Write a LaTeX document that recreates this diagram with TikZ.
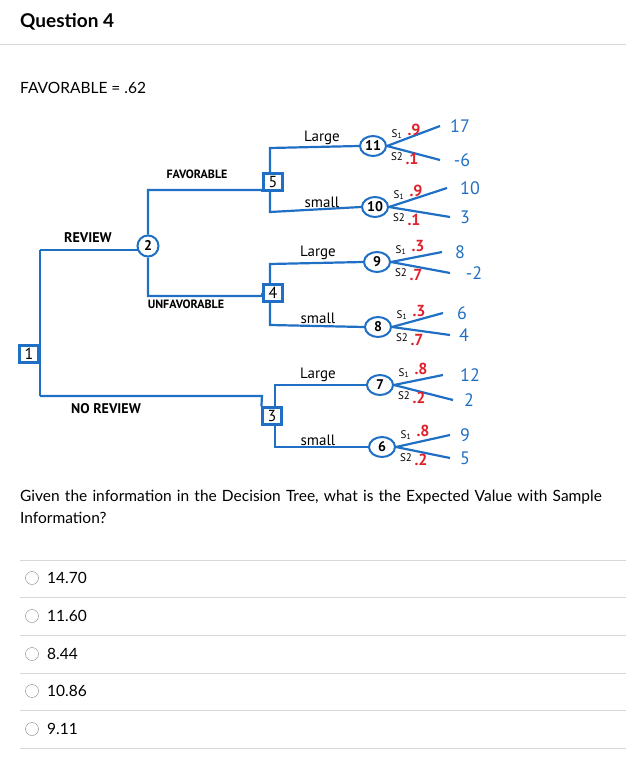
\documentclass[tikz,border=0pt]{standalone}
\usepackage{fontspec}
\setmainfont{Lato}
\newfontfamily\hand{PT Sans}
\usetikzlibrary{shapes.geometric}
\definecolor{tb}{HTML}{1F6FC4}
\definecolor{tr}{HTML}{E0202A}
\definecolor{sep}{HTML}{D8D8D8}
\begin{document}
\begin{tikzpicture}[x=1pt,y=-1pt,
  br/.style={tb,line width=2.2pt},
  dbox/.style={draw=tb,line width=2.2pt,minimum width=19pt,minimum height=17pt,inner sep=0pt,font=\hand\fontsize{16}{17}\selectfont},
  cnode/.style={draw=tb,line width=2pt,ellipse,minimum width=26pt,minimum height=20pt,inner sep=0pt,font=\hand\fontsize{14}{15}\selectfont\bfseries},
  lab/.style={font=\hand\fontsize{15}{16}\selectfont,inner sep=0pt},
  sl/.style={font=\hand\fontsize{11}{12}\selectfont,inner sep=0pt},
  pr/.style={font=\hand\fontsize{16}{17}\selectfont\bfseries,text=tr,inner sep=0pt},
  val/.style={font=\hand\fontsize{18}{19}\selectfont,text=tb,inner sep=0pt},
  opt/.style={font=\fontsize{15.5}{22}\selectfont,anchor=west,inner sep=0pt},
  rad/.style={draw=gray,circle,minimum size=13pt,inner sep=0pt}]
\useasboundingbox (0,0) rectangle (626,767);
\node[font=\fontsize{19}{20}\selectfont\bfseries,anchor=west,inner sep=0pt] (q) at (20,22) {Question 4};
\draw[sep,line width=1pt] (0,45) -- (626,45);
\node[opt] (fav) at (20,88) {FAVORABLE = .62};
% decision nodes
\node[dbox] (n1) at (29,354) {1};
\node[cnode,circle,minimum size=21pt] (n2) at (148,246) {2};
\node[dbox] (n5) at (273,182) {5};
\node[dbox] (n4) at (273,293) {4};
\node[dbox] (n3) at (272,416) {3};
\coordinate (a1) at (40,250); \coordinate (a2) at (40,396);
\draw[br] (n1.east) -- (40,354);
\draw[br] (a1) -- (a2);
\draw[br] (a1) -- (138,250);
\draw[br] (a2) -- (262,396) -- (n3.north west);
\draw[br] (n2.north) |- (262,190) -- (n5.south west);
\draw[br] (n2.south) |- (262,296) -- (n4.west);
\node[lab,font=\hand\fontsize{14}{15}\selectfont\bfseries] (rv) at (88,238) {REVIEW};
\node[lab,font=\hand\fontsize{12}{13}\selectfont\bfseries] (fv) at (197,174) {FAVORABLE};
\node[lab,font=\hand\fontsize{12}{13}\selectfont\bfseries] (uf) at (186,304) {UNFAVORABLE};
\node[lab,font=\hand\fontsize{14}{15}\selectfont\bfseries] (nr) at (106,409) {NO REVIEW};
% chance nodes
\foreach \nm/\x/\y/\t in {c11/373/146/11,c10/375/207/10,c9/377/262/9,c8/378/327/8,c7/380/385/7,c6/382/447/6}
  \node[cnode] (\nm) at (\x,\y) {\t};
\foreach \d/\u/\l/\xx/\yu/\yl in {n5/c11/c10/270/148/212, n4/c9/c8/270/264/325, n3/c7/c6/275/385/447}{
  \draw[br] (\d.north -| \xx,0) -- (\xx,\yu) -- (\u.west);
  \draw[br] (\d.south -| \xx,0) -- (\xx,\yl) -- (\l.west);
}
\node[lab] at (322,138) {Large};
\node[lab] at (322,202) {small};
\node[lab] at (318,253) {Large};
\node[lab] at (318,318) {small};
\node[lab] at (318,375) {Large};
\node[lab] at (318,440) {small};
% outcomes
\foreach \c/\ex/\eya/\exb/\eyb/\va/\vb/\vxa/\vxb/\pa/\pb in {
 c11/440/126/440/160/17/-6/460/462/.9/.1,
 c10/447/188/450/217/10/3/470/465/.9/.1,
 c9/442/252/450/273/8/-2/460/474/.3/.7,
 c8/443/313/450/335/6/4/462/464/.3/.7,
 c7/443/375/453/400/12/2/470/469/.8/.2,
 c6/450/435/450/458/9/5/465/465/.8/.2}{
  \coordinate (\c a) at (\ex,\eya); \coordinate (\c b) at (\exb,\eyb);
  \draw[br] (\c.east) -- (\c a); \draw[br] (\c.east) -- (\c b);
  \node[val] at (\vxa,\eya) {\va};
  \node[val] at (\vxb,\eyb) {\vb};
  \node[sl] at ([xshift=10pt,yshift=12pt]\c.east) {S\textsubscript{1}};
  \node[pr] at ([xshift=27pt,yshift=16pt]\c.east) {\pa};
  \node[sl] at ([xshift=10pt,yshift=-11pt]\c.east) {S2};
  \node[pr] at ([xshift=25pt,yshift=-13pt]\c.east) {\pb};
}
% question
\node[opt,align=left,text width=590pt,anchor=north west] (qt) at (20,490) {Given the information in the Decision Tree, what is the Expected Value with Sample Information?};
\foreach \y in {560,597,635,673,710,748} \draw[sep] (20,\y) -- (626,\y);
\foreach \y/\t in {578/14.70,616/11.60,654/8.44,691/10.86,729/9.11}{
  \node[rad] at (32,\y) {};
  \node[opt] at (47,\y) {\t};
}
\end{tikzpicture}
\end{document}
